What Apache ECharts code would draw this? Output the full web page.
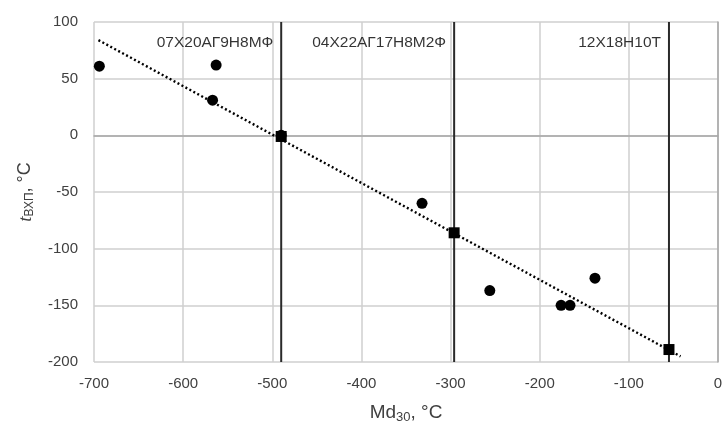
<!DOCTYPE html>
<html><head><meta charset="utf-8">
<script src="https://cdn.jsdelivr.net/npm/echarts@6/dist/echarts.min.js"></script>
<style>html,body{margin:0;padding:0;background:#fff}#c{width:723px;height:425px}</style>
</head><body><div id="c"></div>
<script>
const circlePoints = [[-694,61],[-563,62],[-567,31],[-490,0],[-332,-60],[-256,-137],[-176,-150],[-166,-150],[-138,-126]];
const squarePoints = [[-490,-1],[-296,-86],[-55,-189]];
const trendLine = [[-695,84],[-42,-195]];
const steelX = [-490,-296,-55];
const steelNames = ['07Х20АГ9Н8МФ','04Х22АГ17Н8М2Ф','12Х18Н10Т'];
const labelY = 82;
const xTicks = {min:-700,max:0,interval:100};
const yTicks = {min:-200,max:100,interval:50};

const chart = echarts.init(document.getElementById('c'));
const tickStyle = {color:'#404040',fontSize:15,fontFamily:'Liberation Sans, Arial'};
const series = [];
steelX.forEach(x=>{
  series.push({type:'line',data:[[x,yTicks.min],[x,yTicks.max]],symbol:'none',silent:true,
    lineStyle:{color:'#2a2a2a',width:2},z:3});
});
series.push({type:'line',data:trendLine,symbol:'none',silent:true,
  lineStyle:{color:'#000',width:2.4,type:[2,2.5]},z:4});
series.push({type:'scatter',data:circlePoints,symbol:'circle',symbolSize:11,itemStyle:{color:'#000',opacity:1},z:5});
series.push({type:'scatter',data:squarePoints,symbol:'rect',symbolSize:11,itemStyle:{color:'#000',opacity:1},z:6});
series.push({type:'scatter',data:steelX.map((x,i)=>({value:[x,labelY],name:steelNames[i]})),
  symbolSize:0,silent:true,
  label:{show:true,position:'left',distance:8,formatter:p=>p.name,color:'#000',fontSize:15.5,fontFamily:'Liberation Sans, Arial'},z:7});

chart.setOption({
  animation:false,
  grid:{left:94,right:5,top:22,bottom:63,outerBoundsMode:'none',containLabel:false},
  xAxis:{type:'value',min:xTicks.min,max:xTicks.max,interval:xTicks.interval,
    axisLine:{lineStyle:{color:'#a6a6a6',width:1.5}},axisTick:{show:false},
    axisLabel:{...tickStyle,margin:14},
    splitLine:{lineStyle:{color:'#cfcfcf',width:1.5}},
    name:'{n|Md}{s|30}{n|, °C}',nameLocation:'middle',nameGap:40,
    nameTextStyle:{rich:{n:{fontSize:19,color:'#404040',fontFamily:'Liberation Sans, Arial'},s:{fontSize:13,color:'#404040',fontFamily:'Liberation Sans, Arial',padding:[9,0,0,0]}}}
  },
  yAxis:{type:'value',min:yTicks.min,max:yTicks.max,interval:yTicks.interval,
    axisLine:{show:true,lineStyle:{color:'#a6a6a6',width:1.5}},axisTick:{show:false},
    axisLabel:{...tickStyle,margin:16},
    splitLine:{lineStyle:{color:'#cfcfcf',width:1.5}},
    name:'{i|t}{s|ВХП}{n|, °C}',nameLocation:'middle',nameGap:58,nameRotate:90,
    nameTextStyle:{rich:{i:{fontSize:19,fontStyle:'italic',color:'#404040',fontFamily:'Liberation Serif, serif'},n:{fontSize:18,color:'#404040',fontFamily:'Liberation Sans, Arial'},s:{fontSize:12,color:'#404040',fontFamily:'Liberation Sans, Arial',padding:[9,0,0,0]}}}
  },
  series
});
</script></body></html>
